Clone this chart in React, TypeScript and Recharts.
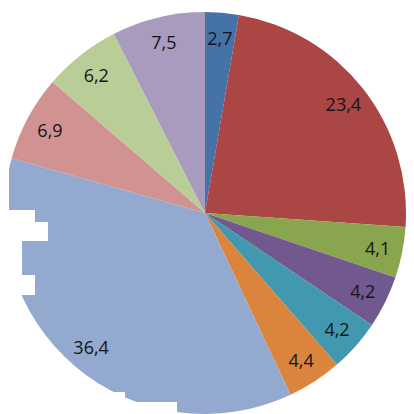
import React from 'react';
import { PieChart, Pie, Cell } from 'recharts';

// slice values, clockwise from 12 o'clock
const names = ['A', 'B', 'C', 'D', 'E', 'F', 'G', 'H', 'I', 'J'];
const values = [2.7, 23.4, 4.1, 4.2, 4.2, 4.4, 36.4, 6.9, 6.2, 7.5];
const colors = [
    '#4572A7', '#AA4643', '#89A54E', '#71588F', '#4198AF',
    '#DB843D', '#93A9CF', '#D19392', '#B9CD96', '#A99BBD',
];

const data = names.map((name, i) => ({ name, value: values[i] }));

const RADIAN = Math.PI / 180;

const renderLabel = (props: any) => {
    const { cx, cy, midAngle, value } = props;
    const r = 176;
    const x = cx + r * Math.cos(-midAngle * RADIAN);
    const y = cy + r * Math.sin(-midAngle * RADIAN);
    return (
        <text
            x={x}
            y={y}
            fill="#141420"
            textAnchor="middle"
            dominantBaseline="central"
            fontFamily="'Open Sans', sans-serif"
            fontSize={18}
        >
            {String(value).replace('.', ',')}
        </text>
    );
};

// white patches covering the edge of the pie in the source picture
const patches = [
    { x: 0, y: 155, w: 9, h: 60 },
    { x: 0, y: 210, w: 35, h: 13 },
    { x: 0, y: 222, w: 48, h: 19 },
    { x: 0, y: 241, w: 22, h: 35 },
    { x: 0, y: 275, w: 35, h: 20 },
    { x: 80, y: 392, w: 45, h: 22 },
    { x: 125, y: 402, w: 52, h: 12 },
];

const App = () => {
    return (
        <div style={{ position: 'absolute', left: 0, top: 0, width: 414, height: 414, background: '#fff' }}>
            <PieChart width={414} height={414} margin={{ top: 0, right: 0, bottom: 0, left: 0 }}>
                <Pie
                    data={data}
                    dataKey="value"
                    cx={205}
                    cy={213}
                    outerRadius={201}
                    startAngle={90}
                    endAngle={-270}
                    stroke="none"
                    label={renderLabel}
                    labelLine={false}
                    isAnimationActive={false}
                >
                    {data.map((d, i) => (
                        <Cell key={d.name} fill={colors[i]} />
                    ))}
                </Pie>
            </PieChart>
            <svg width={414} height={414} style={{ position: 'absolute', left: 0, top: 0, pointerEvents: 'none' }}>
                {patches.map((p, i) => (
                    <rect key={i} x={p.x} y={p.y} width={p.w} height={p.h} fill="#fff" />
                ))}
            </svg>
        </div>
    );
};

export default App;
